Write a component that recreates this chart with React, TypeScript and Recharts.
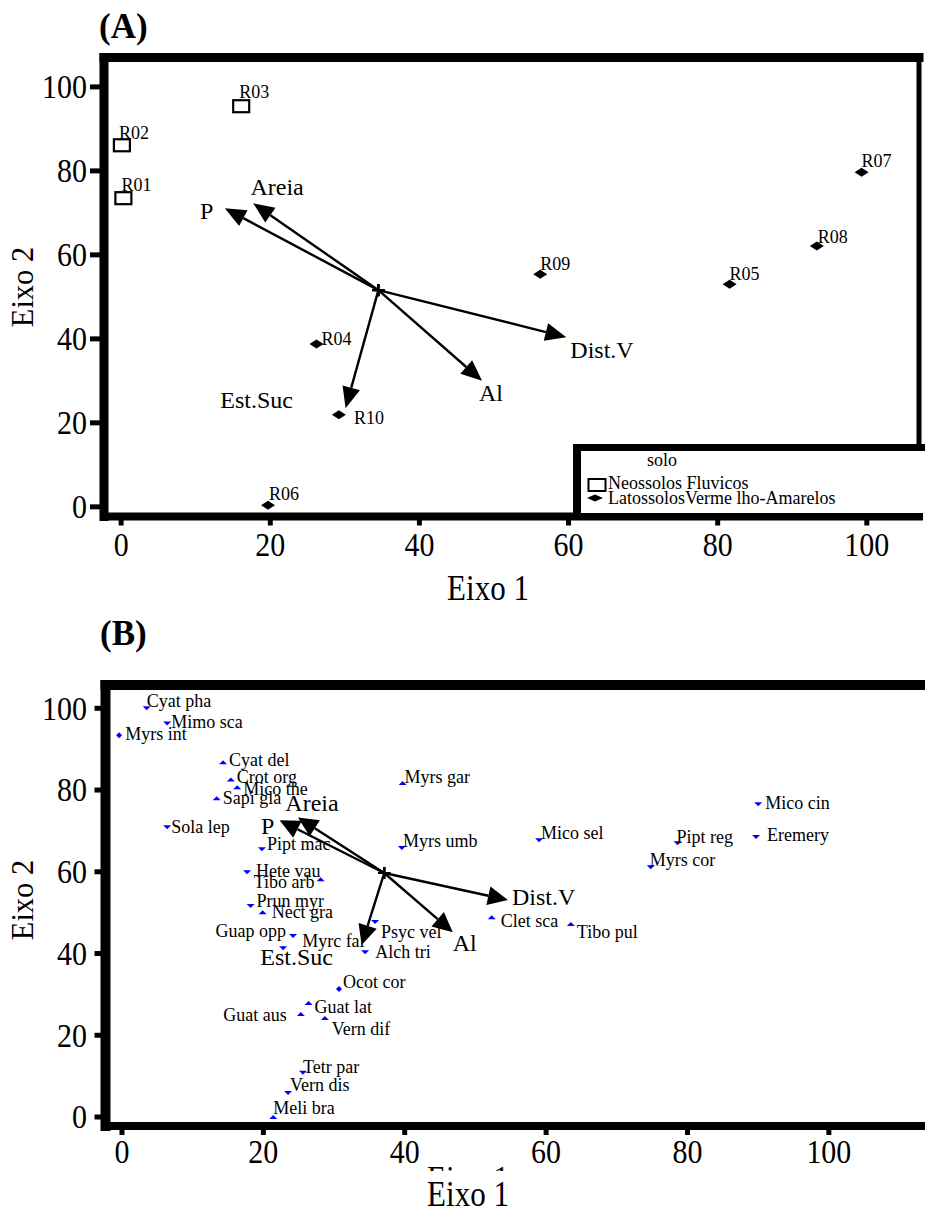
import React from 'react';
import { ScatterChart, Scatter, XAxis, YAxis, ReferenceLine, Legend } from 'recharts';

const FONT = '"Liberation Serif", "Times New Roman", Times, serif';

// ---------- shared ----------
const axisTicks = [0, 20, 40, 60, 80, 100];
const axisTitleX = 'Eixo 1';
const axisTitleY = 'Eixo 2';
const panelTitles = ['(A)', '(B)'];

// ---------- Panel A : sites ----------
const siteNames = ['R01', 'R02', 'R03', 'R04', 'R05', 'R06', 'R07', 'R08', 'R09', 'R10'];
const siteEixo1 = [0.3, 0.1, 16.1, 26.2, 81.6, 19.7, 99.3, 93.3, 56.2, 29.2];
const siteEixo2 = [73.5, 86.1, 95.4, 38.8, 53.0, 0.4, 79.7, 62.1, 55.4, 21.9];
const soloClasses = ['Neossolos Fluvicos', 'LatossolosVerme lho-Amarelos'];
const siteSolo = [0, 0, 0, 1, 1, 1, 1, 1, 1, 1];
const legendTitle = 'solo';

// ---------- environmental vectors ----------
const envNames = ['P', 'Areia', 'Dist.V', 'Al', 'Est.Suc'];
const envOriginA = [34.5, 51.6];
const envEixo1A = [13.9, 17.7, 59.7, 48.4, 30.1];
const envEixo2A = [71.1, 72.3, 40.4, 30.0, 23.5];
const envOriginB = [37.1, 59.7];
const envEixo1B = [22.3, 24.9, 54.6, 46.8, 33.9];
const envEixo2B = [72.6, 73.3, 53.1, 45.2, 42.1];

// ---------- Panel B : species ----------
const speciesNames = [
  'Cyat pha', 'Mimo sca', 'Myrs int', 'Cyat del', 'Crot org', 'Mico the', 'Sapi gla', 'Sola lep',
  'Myrs gar', 'Myrs umb', 'Pipt mac', 'Hete vau', 'Tibo arb', 'Prun myr', 'Nect gra', 'Guap opp',
  'Myrc fal', 'Psyc vel', 'Alch tri', 'Ocot cor', 'Guat lat', 'Guat aus', 'Vern dif', 'Tetr par',
  'Vern dis', 'Meli bra', 'Mico sel', 'Pipt reg', 'Myrs cor', 'Mico cin', 'Eremery', 'Clet sca', 'Tibo pul',
];
const speciesEixo1 = [
  3.5, 6.4, -0.4, 14.3, 15.4, 16.3, 13.4, 6.4,
  39.7, 39.6, 19.8, 17.7, 28.1, 18.2, 19.9, 24.2,
  22.8, 35.8, 34.4, 30.7, 26.4, 25.3, 28.7, 25.6,
  23.5, 21.4, 59.0, 78.6, 74.8, 90.0, 89.7, 52.3, 63.5,
];
const speciesEixo2 = [
  100.0, 96.3, 93.4, 86.8, 82.6, 80.7, 78.0, 70.9,
  81.7, 65.8, 65.5, 59.9, 58.2, 51.6, 50.1, 44.3,
  41.3, 47.7, 40.3, 31.3, 27.9, 25.2, 24.2, 10.8,
  5.9, 0.0, 67.7, 67.0, 61.1, 76.5, 68.5, 48.9, 47.2,
];

// ---------- styles (marker glyphs, label offsets in px) ----------
type LabStyle = { dx: number; dy: number; anchor?: 'start' | 'middle' | 'end' };
const siteLabel: Record<string, LabStyle> = {
  R01: { dx: -2, dy: -13 }, R02: { dx: -3, dy: -12 }, R03: { dx: -2, dy: -14 },
  R04: { dx: 5, dy: -5 }, R05: { dx: 0, dy: -10 }, R06: { dx: 1, dy: -11 },
  R07: { dx: 0, dy: -11 }, R08: { dx: 1, dy: -9 }, R09: { dx: 0, dy: -10 }, R10: { dx: 15, dy: 3 },
};
const envLabelA: Record<string, LabStyle> = {
  P: { dx: -18, dy: 3, anchor: 'middle' }, Areia: { dx: 24, dy: -16, anchor: 'middle' },
  'Dist.V': { dx: 4, dy: 13, anchor: 'start' }, Al: { dx: 9, dy: 12, anchor: 'middle' },
  'Est.Suc': { dx: -89, dy: -8, anchor: 'middle' },
};
const envLabelB: Record<string, LabStyle> = {
  P: { dx: -12, dy: 6, anchor: 'middle' }, Areia: { dx: 14, dy: -14, anchor: 'middle' },
  'Dist.V': { dx: 4, dy: -3, anchor: 'start' }, Al: { dx: 12, dy: 11, anchor: 'middle' },
  'Est.Suc': { dx: -65, dy: 12, anchor: 'middle' },
};
type SpStyle = { m: 'up' | 'down' | 'diamond'; dx: number; dy: number; anchor?: 'start' | 'end' };
const speciesStyle: Record<string, SpStyle> = {
  'Cyat pha': { m: 'down', dx: 0, dy: -7 }, 'Mimo sca': { m: 'down', dx: 4, dy: -1 },
  'Myrs int': { m: 'diamond', dx: 6, dy: -1 }, 'Cyat del': { m: 'up', dx: 6, dy: -2 },
  'Crot org': { m: 'up', dx: 6, dy: -2 }, 'Mico the': { m: 'up', dx: 6, dy: 2 },
  'Sapi gla': { m: 'up', dx: 6, dy: 0 }, 'Sola lep': { m: 'down', dx: 4, dy: 0 },
  'Myrs gar': { m: 'up', dx: 2, dy: -6 }, 'Myrs umb': { m: 'down', dx: 1, dy: -7 },
  'Pipt mac': { m: 'down', dx: 5, dy: -5 }, 'Hete vau': { m: 'down', dx: 9, dy: -1 },
  'Tibo arb': { m: 'up', dx: -6, dy: 3, anchor: 'end' }, 'Prun myr': { m: 'down', dx: 6, dy: -5 },
  'Nect gra': { m: 'up', dx: 9, dy: 0 }, 'Guap opp': { m: 'down', dx: -7, dy: -5, anchor: 'end' },
  'Myrc fal': { m: 'down', dx: 19, dy: -7 }, 'Psyc vel': { m: 'down', dx: 6, dy: 10 },
  'Alch tri': { m: 'down', dx: 10, dy: 0 }, 'Ocot cor': { m: 'diamond', dx: 4, dy: -7 },
  'Guat lat': { m: 'up', dx: 6, dy: 4 }, 'Guat aus': { m: 'up', dx: -14, dy: 1, anchor: 'end' },
  'Vern dif': { m: 'up', dx: 7, dy: 11 }, 'Tetr par': { m: 'down', dx: 0, dy: -6 },
  'Vern dis': { m: 'down', dx: 2, dy: -8 }, 'Meli bra': { m: 'up', dx: 0, dy: -9 },
  'Mico sel': { m: 'down', dx: 2, dy: -7 }, 'Pipt reg': { m: 'down', dx: -1, dy: -6 },
  'Myrs cor': { m: 'down', dx: -1, dy: -7 }, 'Mico cin': { m: 'down', dx: 7, dy: -1 },
  Eremery: { m: 'down', dx: 11, dy: -2 }, 'Clet sca': { m: 'up', dx: 9, dy: 4 },
  'Tibo pul': { m: 'up', dx: 6, dy: 8 },
};

const BLUE = '#0000ff';

// ---------- render helpers ----------
function makeYTick(stretch: number) {
  return (p: any) => (
    <g transform={`translate(${p.x},${p.y}) scale(1,${stretch})`}>
      <text x={0} y={0} dy="0.34em" textAnchor="end" fontFamily={FONT} fontSize={30} fill="#000">
        {p.payload.value}
      </text>
    </g>
  );
}
function makeXTick(stretch: number, offset: number) {
  return (p: any) => (
    <g transform={`translate(${p.x},${p.y + offset}) scale(1,${stretch})`}>
      <text x={0} y={0} dy="0.34em" textAnchor="middle" fontFamily={FONT} fontSize={30} fill="#000">
        {p.payload.value}
      </text>
    </g>
  );
}

function makeArrow(label: string, lab: LabStyle, L: number, W: number) {
  return (p: any) => {
    const x1 = Number(p.x1), y1 = Number(p.y1), x2 = Number(p.x2), y2 = Number(p.y2);
    const vx = x2 - x1, vy = y2 - y1;
    const len = Math.hypot(vx, vy) || 1;
    const ux = vx / len, uy = vy / len;
    const bx = x2 - ux * L, by = y2 - uy * L;
    const nx = -uy, ny = ux;
    const pts = `${x2},${y2} ${bx + (nx * W) / 2},${by + (ny * W) / 2} ${bx - (nx * W) / 2},${by - (ny * W) / 2}`;
    return (
      <g>
        <line x1={x1} y1={y1} x2={bx} y2={by} stroke="#000" strokeWidth={2.4} />
        <polygon points={pts} fill="#000" />
        <line x1={x1 - 6} y1={y1} x2={x1 + 6} y2={y1} stroke="#000" strokeWidth={2} />
        <line x1={x1} y1={y1 - 6} x2={x1} y2={y1 + 6} stroke="#000" strokeWidth={2} />
        <text x={x2 + lab.dx} y={y2 + lab.dy} dy="0.33em" textAnchor={lab.anchor || 'start'}
          fontFamily={FONT} fontSize={24} fill="#000">{label}</text>
      </g>
    );
  };
}

function siteShape(kind: 'square' | 'diamond') {
  return (p: any) => {
    const { cx, cy, payload } = p;
    const off = siteLabel[payload.name] || { dx: 0, dy: -11 };
    const marker = kind === 'square'
      ? <rect x={cx - 8} y={cy - 6} width={16} height={12} fill="none" stroke="#000" strokeWidth={2.2} />
      : <polygon points={`${cx - 7},${cy} ${cx},${cy - 4.5} ${cx + 7},${cy} ${cx},${cy + 4.5}`} fill="#000" />;
    return (
      <g>
        {marker}
        <text x={cx + off.dx} y={cy + off.dy} dy="0.33em" fontFamily={FONT} fontSize={18} fill="#000">
          {payload.name}
        </text>
      </g>
    );
  };
}

const speciesShape = (p: any) => {
  const { cx, cy, payload } = p;
  const st = speciesStyle[payload.name] || { m: 'up', dx: 5, dy: 0 };
  let marker;
  if (st.m === 'up') marker = <polygon points={`${cx - 4},${cy + 2} ${cx + 4},${cy + 2} ${cx},${cy - 2}`} fill={BLUE} />;
  else if (st.m === 'down') marker = <polygon points={`${cx - 4},${cy - 2} ${cx + 4},${cy - 2} ${cx},${cy + 2}`} fill={BLUE} />;
  else marker = <polygon points={`${cx - 3},${cy} ${cx},${cy - 3} ${cx + 3},${cy} ${cx},${cy + 3}`} fill={BLUE} />;
  return (
    <g>
      {marker}
      <text x={cx + st.dx} y={cy + st.dy} dy="0.33em" textAnchor={st.anchor || 'start'}
        fontFamily={FONT} fontSize={18} fill="#000">{payload.name}</text>
    </g>
  );
};

const SoloLegend = () => (
  <div style={{ width: 352, height: 69, boxSizing: 'border-box', borderLeft: '8px solid #000', borderTop: '7px solid #000', background: '#fff' }}>
    <svg width={344} height={62} style={{ display: 'block' }}>
      <text x={81} y={9} dy="0.33em" textAnchor="middle" fontFamily={FONT} fontSize={18} fill="#000">{legendTitle}</text>
      <rect x={7.5} y={28} width={17} height={12} fill="none" stroke="#000" strokeWidth={2} />
      <text x={27} y={32} dy="0.33em" fontFamily={FONT} fontSize={18} fill="#000">{soloClasses[0]}</text>
      <polygon points="6,47 14,43.5 22,47 14,50.5" fill="#000" />
      <text x={27} y={47} dy="0.33em" fontFamily={FONT} fontSize={18} fill="#000">{soloClasses[1]}</text>
    </svg>
  </div>
);

const axisLineStyle = (w: number) => ({ stroke: '#000', strokeWidth: w, strokeLinecap: 'square' as const });

export default function App() {
  const sites = siteNames.map((name, i) => ({ name, x: siteEixo1[i], y: siteEixo2[i], solo: siteSolo[i] }));
  const neo = sites.filter((s) => s.solo === 0);
  const lat = sites.filter((s) => s.solo === 1);
  const species = speciesNames.map((name, i) => ({ name, x: speciesEixo1[i], y: speciesEixo2[i] }));

  const domA: [number, number] = [-2.3, 107];
  const domBx: [number, number] = [-2.33, 113.6];
  const domBy: [number, number] = [-2.2, 105.7];

  return (
    <div style={{ position: 'absolute', left: 0, top: 0, width: 925, height: 1209, background: '#fff', overflow: 'hidden' }}>
      {/* Panel A */}
      <div style={{ position: 'absolute', left: 0, top: 0 }}>
        <ScatterChart width={925} height={620} margin={{ top: 57.5, right: 6, bottom: 20, left: 0 }}>
          <XAxis
            type="number" dataKey="x" domain={domA} ticks={axisTicks} interval={0} allowDataOverflow
            height={83.5} axisLine={axisLineStyle(8)} tickLine={{ stroke: '#000', strokeWidth: 5 }}
            tickSize={9} tickMargin={0} tick={makeXTick(1.12, 19.5)}
            label={() => (
              <g transform="translate(488,588) scale(1,1.13)">
                <text x={0} y={0} dy="0.33em" textAnchor="middle" fontFamily={FONT} fontSize={31} fill="#000">{axisTitleX}</text>
              </g>
            )}
          />
          <YAxis
            type="number" dataKey="y" domain={domA} ticks={axisTicks} interval={0} allowDataOverflow
            width={104} axisLine={axisLineStyle(9)} tickLine={{ stroke: '#000', strokeWidth: 5 }}
            tickSize={14} tickMargin={3} tick={makeYTick(1.12)}
            label={() => (
              <g>
                <text transform="translate(23,287) rotate(-90)" dy="0.33em" textAnchor="middle" fontFamily={FONT} fontSize={30.5} fill="#000">{axisTitleY}</text>
                <text x={99} y={38} fontFamily={FONT} fontSize={35} fontWeight="bold" fill="#000">{panelTitles[0]}</text>
              </g>
            )}
          />
          <ReferenceLine y={domA[1]} stroke="#000" strokeWidth={9} strokeLinecap="square" ifOverflow="visible" />
          <ReferenceLine x={domA[1]} stroke="#000" strokeWidth={5} ifOverflow="visible" />
          {envNames.map((n, i) => (
            <ReferenceLine
              key={n}
              ifOverflow="visible"
              segment={[{ x: envOriginA[0], y: envOriginA[1] }, { x: envEixo1A[i], y: envEixo2A[i] }]}
              shape={makeArrow(n, envLabelA[n], 21, 18)}
            />
          ))}
          <Scatter name={soloClasses[0]} data={neo} shape={siteShape('square')} isAnimationActive={false} />
          <Scatter name={soloClasses[1]} data={lat} shape={siteShape('diamond')} isAnimationActive={false} />
          <Legend
            layout="horizontal" verticalAlign="middle" align="center"
            wrapperStyle={{ left: 573, top: 444, width: 352, height: 69 }}
            content={() => <SoloLegend />}
          />
        </ScatterChart>
      </div>

      {/* Panel B */}
      <div style={{ position: 'absolute', left: 0, top: 600 }}>
        <ScatterChart width={925} height={609} margin={{ top: 85, right: 0, bottom: 0, left: 0 }}>
          <XAxis
            type="number" dataKey="x" domain={domBx} ticks={axisTicks} interval={0} allowDataOverflow
            height={83} axisLine={axisLineStyle(8)} tickLine={{ stroke: '#000', strokeWidth: 5 }}
            tickSize={9} tickMargin={0} tick={makeXTick(1.12, 17)}
            label={() => (
              <g>
                <defs>
                  <clipPath id="ghostClipB">
                    <rect x={0} y={564} width={925} height={7} />
                  </clipPath>
                </defs>
                <g clipPath="url(#ghostClipB)">
                  <text x={468} y={588} textAnchor="middle" fontFamily={FONT} fontSize={31} fill="#000">{axisTitleX}</text>
                </g>
                <g transform="translate(468,594.5) scale(1,1.13)">
                  <text x={0} y={0} dy="0.33em" textAnchor="middle" fontFamily={FONT} fontSize={31} fill="#000">{axisTitleX}</text>
                </g>
              </g>
            )}
          />
          <YAxis
            type="number" dataKey="y" domain={domBy} ticks={axisTicks} interval={0} allowDataOverflow
            width={105.5} axisLine={axisLineStyle(10)} tickLine={{ stroke: '#000', strokeWidth: 5 }}
            tickSize={11} tickMargin={7.5} tick={makeYTick(1.12)}
            label={() => (
              <g>
                <text transform="translate(23,300) rotate(-90)" dy="0.33em" textAnchor="middle" fontFamily={FONT} fontSize={30.5} fill="#000">{axisTitleY}</text>
                <text x={100} y={45} fontFamily={FONT} fontSize={35} fontWeight="bold" fill="#000">{panelTitles[1]}</text>
              </g>
            )}
          />
          <ReferenceLine y={domBy[1]} stroke="#000" strokeWidth={10} strokeLinecap="square" ifOverflow="visible" />
          {envNames.map((n, i) => (
            <ReferenceLine
              key={n}
              ifOverflow="visible"
              segment={[{ x: envOriginB[0], y: envOriginB[1] }, { x: envEixo1B[i], y: envEixo2B[i] }]}
              shape={makeArrow(n, envLabelB[n], 20, 19)}
            />
          ))}
          <Scatter name="especies" data={species} shape={speciesShape} isAnimationActive={false} />
        </ScatterChart>
      </div>
    </div>
  );
}
